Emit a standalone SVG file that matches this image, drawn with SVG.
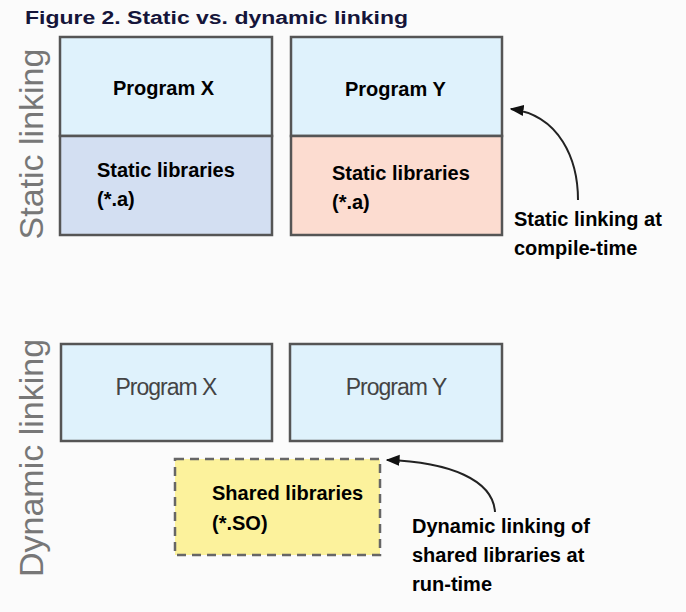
<svg xmlns="http://www.w3.org/2000/svg" width="686" height="612" viewBox="0 0 686 612">
<style>
.bx{stroke:#555;stroke-width:2.5}
.lb{font-family:"Liberation Sans",Arial,sans-serif;font-weight:bold;font-size:20px;fill:#000}
.pg{font-family:"Liberation Sans",Arial,sans-serif;font-size:23px;fill:#444;text-anchor:middle;letter-spacing:-1px}
.side{font-family:"Liberation Sans",Arial,sans-serif;font-size:34px;fill:#777;text-anchor:middle}
.conn{fill:none;stroke:#222;stroke-width:2}
</style>
<defs>
<marker id="ah" viewBox="0 0 10 10" refX="9" refY="5" markerWidth="7" markerHeight="7" orient="auto">
<path d="M0,1 L10,5 L0,9 z" fill="#111"/>
</marker>
</defs>
<rect width="686" height="612" fill="#fbfbfb"/>
<text x="25" y="24" font-family="Liberation Sans,Arial,sans-serif" font-weight="bold" font-size="18" fill="#15153a" textLength="383" lengthAdjust="spacingAndGlyphs">Figure 2. Static vs. dynamic linking</text>
<text class="side" transform="translate(43,144) rotate(-90)">Static linking</text>
<text class="side" transform="translate(43,458) rotate(-90)">Dynamic linking</text>

<g id="static-x">
<rect x="60" y="37" width="212" height="99" fill="#dff2fc" class="bx"/>
<rect x="60" y="136" width="212" height="99" fill="#d3dff2" class="bx"/>
<text class="lb" x="113" y="95">Program X</text>
<text class="lb" x="97" y="177">Static libraries</text>
<text class="lb" x="97" y="206">(*.a)</text>
</g>
<g id="static-y">
<rect x="291" y="37" width="211" height="99" fill="#dff2fc" class="bx"/>
<rect x="291" y="136" width="211" height="99" fill="#fcdcd0" class="bx"/>
<text class="lb" x="345" y="96">Program Y</text>
<text class="lb" x="332" y="180">Static libraries</text>
<text class="lb" x="332" y="209">(*.a)</text>
</g>
<g id="static-note">
<text class="lb" x="514" y="226">Static linking at</text>
<text class="lb" x="514" y="255">compile-time</text>
</g>

<g id="dyn-x">
<rect x="61" y="344" width="211" height="97" fill="#dff2fc" class="bx"/>
<text class="pg" x="166" y="395">Program X</text>
</g>
<g id="dyn-y">
<rect x="290" y="344" width="212" height="97" fill="#dff2fc" class="bx"/>
<text class="pg" x="396" y="395">Program Y</text>
</g>
<g id="shared">
<rect x="175" y="459" width="205" height="96" fill="#fcf29c" stroke="#666" stroke-width="2.5" stroke-dasharray="9,6"/>
<text class="lb" x="212" y="500">Shared libraries</text>
<text class="lb" x="212" y="530">(*.SO)</text>
</g>
<g id="dyn-note">
<text class="lb" x="412" y="533">Dynamic linking of</text>
<text class="lb" x="412" y="562">shared libraries at</text>
<text class="lb" x="412" y="591">run-time</text>
</g>

<g id="connectors">
<path class="conn" d="M578,200 C578,160 560,115 511,109" marker-end="url(#ah)"/>
<path class="conn" d="M495,512 C493,480 450,462 387,460" marker-end="url(#ah)"/>
</g>
</svg>
